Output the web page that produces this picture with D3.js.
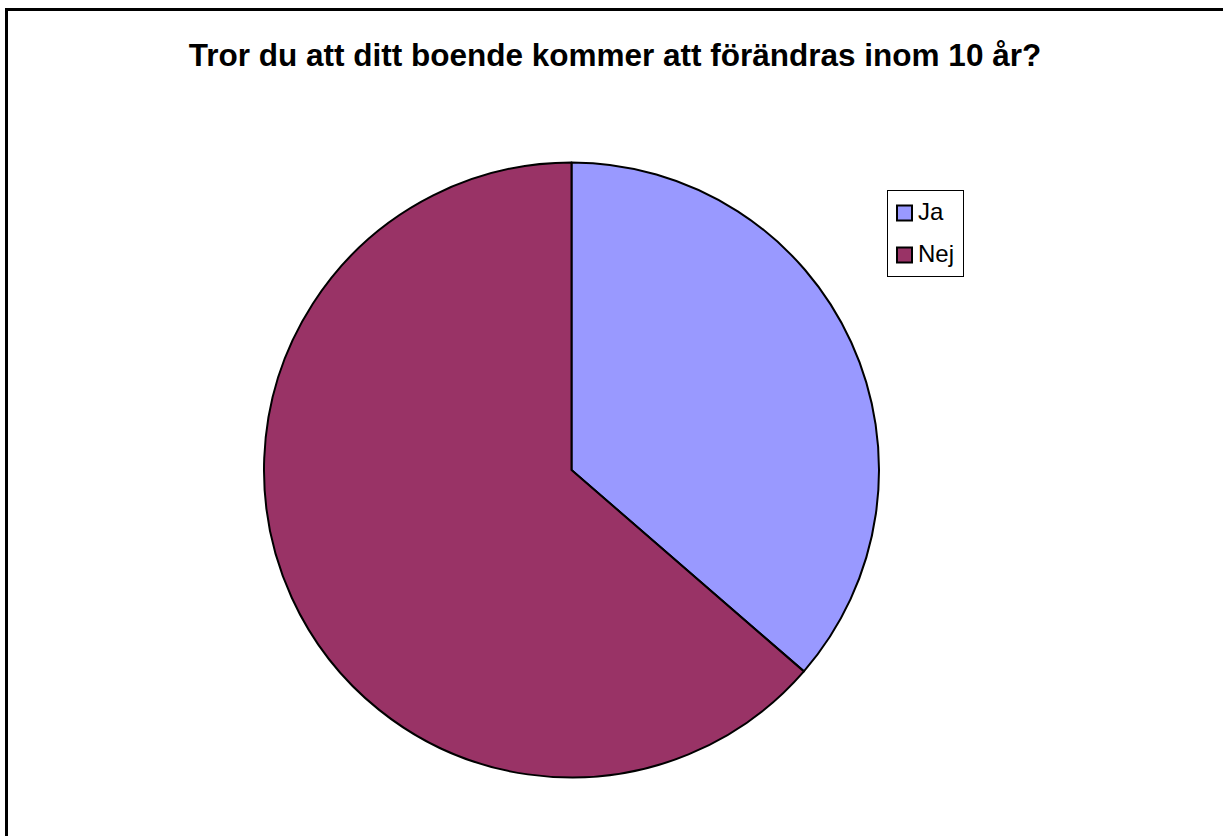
<!DOCTYPE html>
<html>
<head>
<meta charset="utf-8">
<script src="https://d3js.org/d3.v7.min.js"></script>
<style>
  html, body { margin: 0; padding: 0; background: #fff; }
  svg text { font-family: "Liberation Sans", Arial, sans-serif; }
</style>
</head>
<body>
<div id="chart"></div>
<script>
// data
var categories = ["Ja", "Nej"];
var values = [4, 7];
var colors = ["#9999FF", "#993366"];
var title = "Tror du att ditt boende kommer att förändras inom 10 år?";

var width = 1223, height = 836;
var cx = 571.5, cy = 470, radius = 307.5;

var svg = d3.select("#chart")
  .append("svg")
  .attr("width", width)
  .attr("height", height);

// chart frame (runs off the right and bottom edge)
svg.append("rect")
  .attr("x", 6.5)
  .attr("y", 9.5)
  .attr("width", width + 20)
  .attr("height", height + 20)
  .attr("fill", "#fff")
  .attr("stroke", "#000")
  .attr("stroke-width", 3);

svg.append("text")
  .attr("x", 615)
  .attr("y", 66)
  .attr("text-anchor", "middle")
  .style("font-size", "31.5px")
  .style("font-weight", "bold")
  .text(title);

var pie = d3.pie()
  .sort(null)
  .value(function(d) { return d; });

var arc = d3.arc()
  .innerRadius(0)
  .outerRadius(radius);

var g = svg.append("g")
  .attr("transform", "translate(" + cx + "," + cy + ")");

g.selectAll("path")
  .data(pie(values))
  .enter()
  .append("path")
  .attr("d", arc)
  .attr("fill", function(d, i) { return colors[i]; })
  .attr("stroke", "#000")
  .attr("stroke-width", 2)
  .attr("stroke-linejoin", "round");

// legend
var legend = svg.append("g")
  .attr("transform", "translate(887.5,190.5)");

legend.append("rect")
  .attr("width", 76)
  .attr("height", 86)
  .attr("fill", "#fff")
  .attr("stroke", "#000")
  .attr("stroke-width", 1);

var item = legend.selectAll("g.item")
  .data(categories)
  .enter()
  .append("g")
  .attr("class", "item")
  .attr("transform", function(d, i) { return "translate(9.5," + (15 + i * 42) + ")"; });

item.append("rect")
  .attr("width", 15)
  .attr("height", 15)
  .attr("fill", function(d, i) { return colors[i]; })
  .attr("stroke", "#000")
  .attr("stroke-width", 2);

item.append("text")
  .attr("x", 21)
  .attr("y", 14)
  .style("font-size", "24px")
  .text(function(d) { return d; });
</script>
</body>
</html>
